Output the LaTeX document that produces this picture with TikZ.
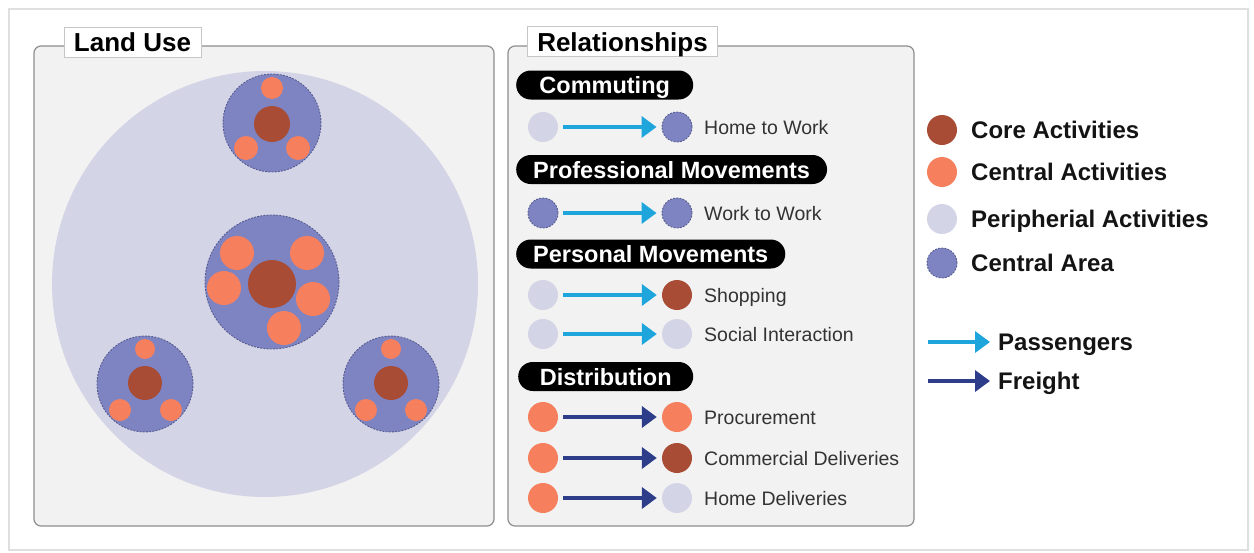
\documentclass[tikz,border=0pt]{standalone}
\usepackage{fontspec}
\setmainfont{Liberation Sans}
\usetikzlibrary{arrows.meta}
\definecolor{corecol}{HTML}{A94C35}
\definecolor{centralcol}{HTML}{F67F5E}
\definecolor{periphcol}{HTML}{D4D4E7}
\definecolor{areacol}{HTML}{7E84C1}
\definecolor{areaedge}{HTML}{555A8E}
\definecolor{passcol}{HTML}{1DA5DC}
\definecolor{freightcol}{HTML}{2D3D8A}
\definecolor{panelfill}{HTML}{F2F2F2}
\definecolor{paneledge}{HTML}{8E8E8E}
\begin{document}
\begin{tikzpicture}[x=1pt, y=-1pt,
            coreact/.style = {circle, fill=corecol, inner sep=0pt},
            centralact/.style = {circle, fill=centralcol, inner sep=0pt},
            periphact/.style = {circle, fill=periphcol, inner sep=0pt},
            centralarea/.style = {circle, fill=areacol, draw=areaedge, line width=0.9pt, dash pattern=on 1.8pt off 1.4pt, inner sep=0pt},
            passarrow/.style = {draw=passcol, line width=4pt, -{Triangle[width=21pt, length=15pt]}},
            freightarrow/.style = {draw=freightcol, line width=4pt, -{Triangle[width=21pt, length=15pt]}},
            panel/.style = {draw=paneledge, fill=panelfill, line width=1.2pt, rounded corners=7pt},
            paneltitle/.style = {draw=gray!45, fill=white, line width=0.8pt, inner xsep=10pt, minimum height=30pt, text height=19pt, text depth=0pt, font=\fontsize{26}{28}\bfseries\selectfont},
            pill/.style = {fill=black, text=white, rounded corners=14.5pt, minimum height=29pt, inner xsep=17pt, inner ysep=0pt, anchor=west, text height=19pt, text depth=2pt, font=\fontsize{23.5}{26}\bfseries\selectfont},
            rowlabel/.style = {anchor=west, inner sep=0pt, text=black!80, text height=16pt, text depth=2pt, font=\fontsize{19.5}{22}\selectfont},
            legendlabel/.style = {anchor=west, inner sep=0pt, text=black!92, text height=19pt, text depth=2pt, font=\fontsize{24}{26}\bfseries\selectfont}]
                \fill[white] (0,0) rectangle (1254,552);
                \useasboundingbox (0,0) rectangle (1254,552);
                \draw[gray!25, line width=1.5pt] (9,9) rectangle (1248,550);

                \draw[panel] (34,46) rectangle (494,526);
                \draw[panel] (508,46) rectangle (914,526);
                \node[paneltitle] (landuse) at (132.5,42) {Land Use};
                \node[paneltitle] (relations) at (622.5,41.5) {Relationships};

                \fill[periphcol] (265,284) circle (213pt);

                \node[centralarea, minimum size=98pt] (top) at (272,123) {};
                \node[coreact, minimum size=36pt] (topcore) at (272,124) {};
                \node[centralact, minimum size=22pt] (top1) at (272,88) {};
                \node[centralact, minimum size=24pt] (top2) at (246,148) {};
                \node[centralact, minimum size=24pt] (top3) at (298,148) {};

                \node[centralarea, minimum size=134pt] (mid) at (272,282) {};
                \node[coreact, minimum size=48pt] (midcore) at (272,284) {};
                \node[centralact, minimum size=34pt] (mid1) at (237,253) {};
                \node[centralact, minimum size=34pt] (mid2) at (307,253) {};
                \node[centralact, minimum size=34pt] (mid3) at (224,288) {};
                \node[centralact, minimum size=34pt] (mid4) at (313,299) {};
                \node[centralact, minimum size=34pt] (mid5) at (284,328) {};

                \node[centralarea, minimum size=96pt] (left) at (145,384) {};
                \node[coreact, minimum size=34pt] (leftcore) at (145,383) {};
                \node[centralact, minimum size=20pt] (left1) at (145,349) {};
                \node[centralact, minimum size=22pt] (left2) at (120,410) {};
                \node[centralact, minimum size=22pt] (left3) at (171,410) {};

                \node[centralarea, minimum size=96pt] (right) at (391,384) {};
                \node[coreact, minimum size=34pt] (rightcore) at (391,383) {};
                \node[centralact, minimum size=20pt] (right1) at (391,349) {};
                \node[centralact, minimum size=22pt] (right2) at (366,410) {};
                \node[centralact, minimum size=22pt] (right3) at (416,410) {};

                \node[pill, minimum width=177pt] (commuting) at (516,85) {Commuting};
                \node[pill] (professional) at (516,169.5) {Professional Movements};
                \node[pill] (personal) at (516,254) {Personal Movements};
                \node[pill, minimum width=175pt] (distribution) at (518,376.5) {Distribution};

                \foreach \i/\y/\from/\arr/\to/\txt in {1/127/periphact/passarrow/centralarea/Home to Work,
                        2/213/centralarea/passarrow/centralarea/Work to Work,
                        3/295/periphact/passarrow/coreact/Shopping,
                        4/334/periphact/passarrow/periphact/Social Interaction,
                        5/417/centralact/freightarrow/centralact/Procurement,
                        6/458/centralact/freightarrow/coreact/Commercial Deliveries,
                        7/498/centralact/freightarrow/periphact/Home Deliveries} {
                    \node[\from, minimum size=30pt] (a\i) at (543,\y) {};
                    \node[\to, minimum size=30pt] (b\i) at (677,\y) {};
                    \node[rowlabel] (l\i) at (704,\y) {\txt};
                    \draw[\arr, shorten <=5pt, shorten >=5pt] (a\i) -- (b\i);
                }

                \node[coreact, minimum size=30pt] (kcore) at (942,130) {};
                \node[centralact, minimum size=30pt] (kcentral) at (942,172) {};
                \node[periphact, minimum size=30pt] (kperiph) at (942,219) {};
                \node[centralarea, minimum size=30pt] (karea) at (942,263) {};
                \node[legendlabel] (kcorelbl) at (971,130) {Core Activities};
                \node[legendlabel] (kcentrallbl) at (971,172) {Central Activities};
                \node[legendlabel] (kperiphlbl) at (971,219) {Peripherial Activities};
                \node[legendlabel] (karealbl) at (971,263) {Central Area};

                \coordinate (kpass) at (928,342);
                \coordinate (kfreight) at (928,381);
                \node[legendlabel] (kpasslbl) at (998,342) {Passengers};
                \node[legendlabel] (kfreightlbl) at (998,381) {Freight};
                \draw[passarrow, shorten >=8pt] (kpass) -- (kpasslbl.west);
                \draw[freightarrow, shorten >=8pt] (kfreight) -- (kfreightlbl.west);
        \end{tikzpicture}
\end{document}
